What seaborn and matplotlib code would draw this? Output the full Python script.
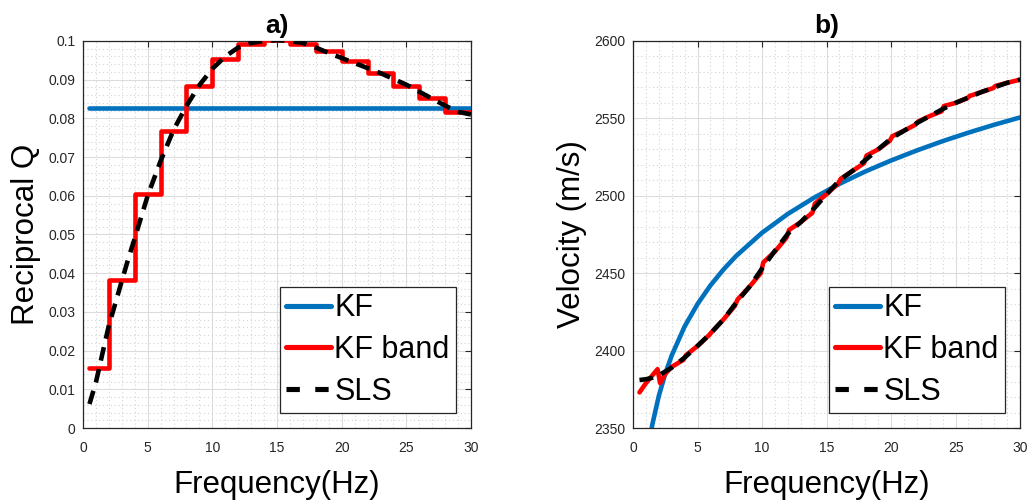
import numpy as np
import pandas as pd
import matplotlib
matplotlib.use("Agg")
import matplotlib.pyplot as plt
from matplotlib.ticker import MultipleLocator, FixedLocator, FuncFormatter
import seaborn as sns

# ---------------- data ----------------
# Panel a) reciprocal Q
kf_q_freq = [0.5, 30.0]
kf_q_val = [0.0826, 0.0826]

band_edges = [0.5, 2, 4, 6, 8, 10, 12, 14, 16, 18, 20, 22, 24, 26, 28, 30]
band_q = [0.0156, 0.0382, 0.0605, 0.0767, 0.0884, 0.0953, 0.0992, 0.1002,
          0.0992, 0.0974, 0.0948, 0.0918, 0.0884, 0.0853, 0.0816, 0.0816]

sls_q_freq = [0.5, 1, 1.5, 2, 2.5, 3, 3.5, 4, 4.5, 5, 6, 7, 8, 9, 10, 11, 12,
              13, 14, 15, 16, 17, 18, 19, 20, 21, 22, 23, 24, 25, 26, 27, 28,
              29, 30]
sls_q_val = [0.0062, 0.0118, 0.0192, 0.0265, 0.0322, 0.0380, 0.0437, 0.0490,
             0.0545, 0.0600, 0.0690, 0.0770, 0.0832, 0.0886, 0.0928, 0.0960,
             0.0983, 0.0995, 0.1000, 0.1002, 0.1000, 0.0995, 0.0983, 0.0969,
             0.0956, 0.0943, 0.0930, 0.0917, 0.0902, 0.0887, 0.0869, 0.0851,
             0.0833, 0.0817, 0.0810]

# Panel b) velocity
kf_v_freq = [1.4, 1.5, 2, 2.5, 3, 4, 5, 6, 7, 8, 10, 12, 14, 16, 18, 20, 22,
             24, 26, 28, 30]
kf_v_val = [2348.0, 2352.4, 2370.8, 2385.1, 2396.9, 2415.6, 2430.1, 2442.1,
            2452.3, 2461.2, 2476.1, 2488.3, 2498.6, 2507.7, 2515.7, 2522.8,
            2529.3, 2535.3, 2540.8, 2545.9, 2550.6]

band_v_freq = [0.5, 1, 1.5, 1.9, 2.1, 2.5, 3, 3.9, 4.1, 5, 5.9, 6.1, 7, 7.9,
               8.1, 9, 9.9, 10.1, 11, 11.9, 12.1, 13, 13.9, 14.1, 15, 15.9,
               16.1, 17, 17.9, 18.1, 19, 19.9, 20.1, 21, 21.9, 22.1, 23, 23.9,
               24.1, 25, 25.9, 26.1, 27, 27.9, 28.1, 29, 30]
band_v_val = [2373, 2379, 2384, 2388, 2379, 2385, 2389.5, 2394, 2397, 2403,
              2410, 2412, 2420, 2429, 2433, 2441, 2450, 2457, 2464, 2473, 2478,
              2483, 2489, 2495, 2501, 2508, 2511, 2516, 2521, 2526, 2530,
              2535.5, 2538.5, 2542, 2546, 2548, 2551.5, 2554.5, 2558, 2560,
              2563, 2564.5, 2567, 2569.5, 2571, 2573, 2575]

sls_v_freq = [0.5, 1, 1.5, 2, 2.5, 3, 4, 5, 6, 7, 8, 9, 10, 11, 12, 13, 14, 15,
              16, 17, 18, 19, 20, 21, 22, 23, 24, 25, 26, 27, 28, 29, 30]
sls_v_val = [2381, 2381.5, 2382.5, 2384, 2386.5, 2389, 2395.5, 2403, 2411,
             2420, 2431, 2441, 2453, 2464.5, 2475.5, 2483, 2491.5, 2501, 2510,
             2516, 2523, 2530, 2537, 2542, 2547, 2551.5, 2556, 2560, 2563.5,
             2567, 2570, 2573, 2575]

x_ticks = [0, 5, 10, 15, 20, 25, 30]
q_ticks = [0, 0.01, 0.02, 0.03, 0.04, 0.05, 0.06, 0.07, 0.08, 0.09, 0.1]
v_ticks = [2350, 2400, 2450, 2500, 2550, 2600]
labels = ["KF", "KF band", "SLS"]

# ---------------- style ----------------
sns.set_theme(style="white")
plt.rcParams["font.family"] = ["Liberation Sans", "DejaVu Sans"]

BLUE = "#0072BD"
RED = "#FF0000"
EDGE = "#262626"
LW = 3.3
DASH = (3.0, 1.9)

fig = plt.figure(figsize=(10.31, 5.01), dpi=100)
ax1 = fig.add_axes([0.0805, 0.1457, 0.3763, 0.7725])
ax2 = fig.add_axes([0.6140, 0.1457, 0.3754, 0.7725])

# panel a
sns.lineplot(x=kf_q_freq, y=kf_q_val, ax=ax1, color=BLUE, linewidth=LW,
             label=labels[0], zorder=3)
sns.lineplot(x=band_edges, y=band_q, ax=ax1, color=RED, linewidth=LW,
             drawstyle="steps-post", label=labels[1], zorder=4)
sns.lineplot(x=sls_q_freq, y=sls_q_val, ax=ax1, color="black", linewidth=LW,
             label=labels[2], zorder=5)
ax1.lines[-1].set_dashes(DASH)

# panel b
sns.lineplot(x=kf_v_freq, y=kf_v_val, ax=ax2, color=BLUE, linewidth=LW,
             label=labels[0], zorder=3)
sns.lineplot(x=band_v_freq, y=band_v_val, ax=ax2, color=RED, linewidth=LW,
             label=labels[1], zorder=4, sort=False)
sns.lineplot(x=sls_v_freq, y=sls_v_val, ax=ax2, color="black", linewidth=LW,
             label=labels[2], zorder=5)
ax2.lines[-1].set_dashes(DASH)

def fmt_q(v, pos):
    s = f"{v:.2f}".rstrip("0").rstrip(".")
    return s if s else "0"

for ax, yt, ylim, yminor, title, ylabel in [
        (ax1, q_ticks, (0, 0.1), 0.002, "a)", "Reciprocal Q"),
        (ax2, v_ticks, (2350, 2600), 10, "b)", "Velocity (m/s)")]:
    ax.set_xlim(0, 30)
    ax.set_ylim(*ylim)
    ax.xaxis.set_major_locator(FixedLocator(x_ticks))
    ax.yaxis.set_major_locator(FixedLocator(yt))
    ax.xaxis.set_minor_locator(MultipleLocator(1))
    ax.yaxis.set_minor_locator(MultipleLocator(yminor))
    if ax is ax1:
        ax.yaxis.set_major_formatter(FuncFormatter(fmt_q))
    ax.grid(True, which="major", color="#dcdcdc", linestyle="-", linewidth=0.8)
    ax.grid(True, which="minor", color="#d4d4d4", linestyle=(0, (1, 2.5)),
            linewidth=0.8)
    ax.set_axisbelow(True)
    ax.tick_params(which="major", direction="in", length=4, width=0.8,
                   top=True, right=True, colors=EDGE, labelsize=10,
                   labelcolor=EDGE)
    ax.tick_params(axis="x", which="major", pad=9)
    ax.tick_params(axis="y", which="major", pad=5.5)
    ax.tick_params(which="minor", length=0)
    for sp in ax.spines.values():
        sp.set_color(EDGE)
        sp.set_linewidth(0.9)
    ax.set_title(title, fontsize=19, fontweight="bold", pad=6, color="black")
    ax.set_xlabel("Frequency(Hz)", fontsize=22.5, labelpad=11, color="black")
    ax.set_ylabel(ylabel, fontsize=22.5, labelpad=5, color="black")
    leg = ax.legend(loc="lower right", fontsize=22, frameon=True,
                    fancybox=False, framealpha=1, edgecolor=EDGE,
                    handlelength=1.45, handletextpad=0.12, borderpad=0.2,
                    labelspacing=0.38, borderaxespad=0.5, labelcolor="black")
    leg.get_frame().set_linewidth(0.9)
    legend_lines = leg.get_lines()
    for line in legend_lines:
        line.set_linewidth(LW + 0.4)
    legend_lines[2].set_dashes((2.6, 3.0))

fig.savefig("out.png", dpi=100)
